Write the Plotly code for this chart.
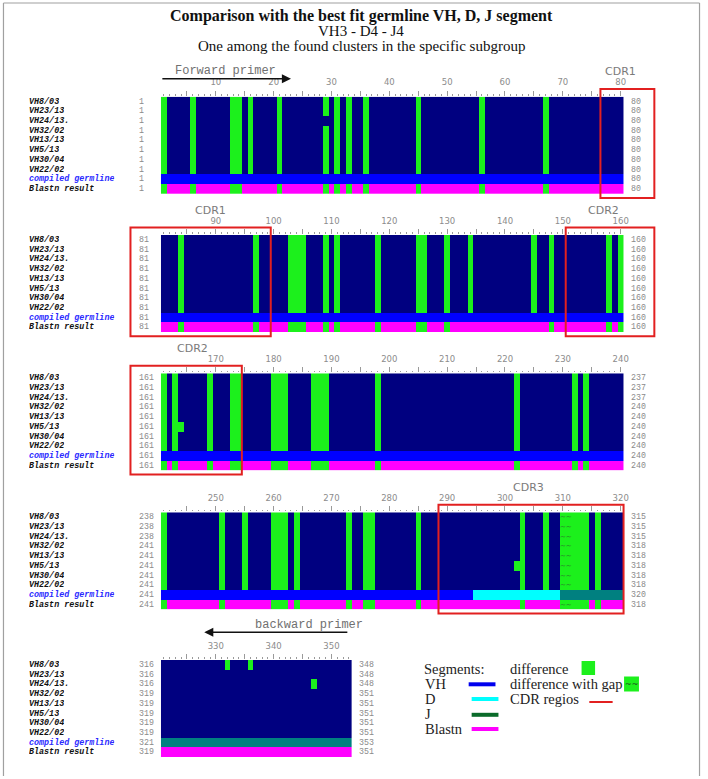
import plotly.graph_objects as go

W, H = 708, 779

# ---------------- data ----------------
row_names = ["VH8/03", "VH23/13", "VH24/13.", "VH32/02", "VH13/13", "VH5/13",
             "VH30/04", "VH22/02", "compiled germline", "Blastn result"]
sequence_rows = 8

block_first = [1, 81, 161, 241, 321]
block_last = [80, 160, 240, 320, 353]

start_numbers_block1 = [1, 1, 1, 1, 1, 1, 1, 1, 1, 1]
start_numbers_block2 = [81, 81, 81, 81, 81, 81, 81, 81, 81, 81]
start_numbers_block3 = [161, 161, 161, 161, 161, 161, 161, 161, 161, 161]
start_numbers_block4 = [238, 238, 238, 241, 241, 241, 241, 241, 241, 241]
start_numbers_block5 = [316, 316, 316, 319, 319, 319, 319, 319, 321, 319]
end_numbers_block1 = [80, 80, 80, 80, 80, 80, 80, 80, 80, 80]
end_numbers_block2 = [160, 160, 160, 160, 160, 160, 160, 160, 160, 160]
end_numbers_block3 = [237, 237, 237, 240, 240, 240, 240, 240, 240, 240]
end_numbers_block4 = [315, 315, 315, 318, 318, 318, 318, 318, 320, 318]
end_numbers_block5 = [348, 348, 348, 351, 351, 351, 351, 351, 353, 351]

shared_difference_positions = [
    1, 6, 13, 14, 16, 21, 29, 31, 33, 36, 45, 56, 67,
    84, 97, 103, 104, 105, 109, 111, 118, 125, 126, 130, 134, 145, 148, 158, 160,
    161, 163, 169, 173, 174, 180, 181, 182, 187, 188, 189, 198, 222, 232, 234,
    241, 251, 255, 260, 261, 262, 264, 273, 276, 277, 285, 303, 307, 316]
gap_difference_positions = [310, 311, 312, 313, 314]
vh8_03_extra_differences = [332, 336]
vh24_13_extra_differences = [347]
vh24_13_matching_positions = [29]
vh5_13_extra_differences = [164, 302]
blastn_difference_positions = [
    1, 6, 13, 14, 21, 29, 31, 33, 36, 45, 56, 67,
    84, 97, 103, 104, 105, 109, 111, 118, 125, 126, 130, 148, 158, 160,
    161, 163, 169, 173, 174, 180, 181, 182, 187, 188, 189, 198, 222, 232, 234,
    241, 251, 260, 261, 262, 264, 273, 276, 277, 285, 303, 316]
vh_segment = [1, 294]
d_segment = [295, 309]
j_segment = [310, 353]

cdr_first = [77, 151, 289]
cdr_last = [99, 174, 320]
cdr_label_block = [0, 1, 1, 2, 3]
cdr_label_text = ["CDR1", "CDR1", "CDR2", "CDR2", "CDR3"]
cdr_label_position = [80, 89, 157, 166, 304]

forward_primer = [1, 23]
backward_primer = [328, 353]

legend_segment_names = ["VH", "D", "J", "Blastn"]

# ---------------- styles / layout ----------------
C_MATCH, C_DIFF, C_VH, C_D, C_J, C_BLAST = 0, 1, 2, 3, 4, 5
cell_colors = ["#000080", "#1cf01c", "#0000ff", "#00ffff", "#008080", "#ff00ff"]
legend_line_colors = ["#0000ee", "#00ffff", "#0a6b2a", "#ff00ff"]
RED = "#e22020"
GREY_TXT = "#8a8a8a"

BAR_LEFT_PX = 162.0
CELL_PX = 5.825
BLOCK_TOP_PX = [96.7, 235.0, 373.3, 512.3, 660.0]
BLOCK_H_PX = 97.3
ROW_TEXT_BOX = 9.5

start_numbers = [start_numbers_block1, start_numbers_block2, start_numbers_block3,
                 start_numbers_block4, start_numbers_block5]
end_numbers = [end_numbers_block1, end_numbers_block2, end_numbers_block3,
               end_numbers_block4, end_numbers_block5]


def px(x):
    return x / W


def py(y):
    return 1 - y / H


def row_extra(r):
    name = row_names[r]
    if name == "VH8/03":
        return vh8_03_extra_differences
    if name == "VH24/13.":
        return vh24_13_extra_differences
    if name == "VH5/13":
        return vh5_13_extra_differences
    return []


def row_same(r):
    if row_names[r] == "VH24/13.":
        return vh24_13_matching_positions
    return []


def code_for(r, p):
    if r < sequence_rows:
        if p in gap_difference_positions or p in row_extra(r):
            return C_DIFF
        if p in shared_difference_positions and p not in row_same(r):
            return C_DIFF
        return C_MATCH
    if r == sequence_rows:
        if vh_segment[0] <= p <= vh_segment[1]:
            return C_VH
        if d_segment[0] <= p <= d_segment[1]:
            return C_D
        return C_J
    if p in blastn_difference_positions or p in gap_difference_positions:
        return C_DIFF
    return C_BLAST


n_codes = len(cell_colors)
colorscale = []
for k, c in enumerate(cell_colors):
    colorscale.append([k / n_codes, c])
    colorscale.append([(k + 1) / n_codes, c])

fig = go.Figure()
layout = dict(width=W, height=H, margin=dict(l=0, r=0, t=0, b=0),
              paper_bgcolor="white", plot_bgcolor="white", showlegend=False)
annotations = []
shapes = []


def note(text, x, y, xref="paper", yref="paper", xanchor="center", yanchor="middle",
         font=None, **kw):
    d = dict(xref=xref, yref=yref, x=x, y=y, text=text, showarrow=False,
             xanchor=xanchor, yanchor=yanchor, font=font or {})
    d.update(kw)
    annotations.append(d)


for b in range(5):
    n = "" if b == 0 else str(b + 1)
    xs = list(range(block_first[b], block_last[b] + 1))
    rows = list(range(len(row_names)))
    z = [[code_for(r, p) for p in xs] for r in rows]
    fig.add_trace(go.Heatmap(x=xs, y=rows, z=z, zmin=-0.5, zmax=n_codes - 0.5,
                             colorscale=colorscale, showscale=False,
                             hoverinfo="skip", xaxis="x" + n, yaxis="y" + n))
    right_px = BAR_LEFT_PX + len(xs) * CELL_PX
    top = BLOCK_TOP_PX[b]
    bottom = top + BLOCK_H_PX
    majors = [p for p in xs if p % 5 == 0]
    layout["xaxis" + n] = dict(
        domain=[px(BAR_LEFT_PX), px(right_px)], anchor="y" + n, side="top",
        range=[block_first[b] - 0.5, block_last[b] + 0.5],
        tickmode="array", tickvals=majors,
        ticktext=[str(p) if p % 10 == 0 else "" for p in majors],
        ticks="outside", ticklen=5, tickwidth=1, tickcolor="#9a9a9a",
        ticklabelstandoff=2,
        tickfont=dict(family="DejaVu Sans", size=8.5, color="#8c8c8c"),
        minor=dict(tickvals=[p for p in xs if p % 5 != 0], ticks="outside",
                   ticklen=1.6, tickwidth=1.2, tickcolor="#9a9a9a"),
        showgrid=False, zeroline=False, showline=False, fixedrange=True)
    layout["yaxis" + n] = dict(
        domain=[py(bottom), py(top)], anchor="x" + n,
        range=[len(row_names) - 0.5, -0.5], visible=False, fixedrange=True)

    for r, name in enumerate(row_names):
        note(name, px(28), r, yref="y" + n, xanchor="left", height=ROW_TEXT_BOX,
             borderpad=0,
             font=dict(family="Liberation Mono", size=8.4, weight="bold", style="italic",
                       color="#2a2aff" if r == sequence_rows else "#111111"))
        note(str(start_numbers[b][r]), px(139), r, yref="y" + n, xanchor="left",
             height=ROW_TEXT_BOX, borderpad=0,
             font=dict(family="Liberation Mono", size=8.3, color=GREY_TXT))
        note(str(end_numbers[b][r]), px(right_px + 6.5), r, yref="y" + n, xanchor="left",
             height=ROW_TEXT_BOX, borderpad=0,
             font=dict(family="Liberation Mono", size=8.3, color=GREY_TXT))

    # "~~" gap marks
    for p in gap_difference_positions[:1]:
        if block_first[b] <= p <= block_last[b]:
            for r in rows:
                if r == sequence_rows:
                    continue
                note("~~", p + 0.6, r, xref="x" + n, yref="y" + n, height=ROW_TEXT_BOX,
                     borderpad=0,
                     font=dict(family="DejaVu Sans", size=7, color="#2d6b2d"))

    # CDR boxes
    for cf, cl in zip(cdr_first, cdr_last):
        lo = max(cf, block_first[b])
        hi = min(cl, block_last[b])
        if lo > hi:
            continue
        x0 = BAR_LEFT_PX + (lo - block_first[b]) * CELL_PX
        x1 = BAR_LEFT_PX + (hi - block_first[b] + 1) * CELL_PX
        if cf < block_first[b]:
            x0 = 131.4
        if cl > block_last[b]:
            x1 = 659.0
        shapes.append(dict(type="rect", xref="paper", yref="paper",
                           x0=px(x0), x1=px(x1), y0=py(bottom + 4), y1=py(top - 7.6),
                           line=dict(color=RED, width=2), fillcolor="rgba(0,0,0,0)"))

# CDR labels
for blk, txt, pos in zip(cdr_label_block, cdr_label_text, cdr_label_position):
    n = "" if blk == 0 else str(blk + 1)
    note(txt, pos, py(BLOCK_TOP_PX[blk] - 25), xref="x" + n,
         font=dict(family="DejaVu Sans", size=11, color="#7a7a7a"))

# primers
annotations.append(dict(xref="x", yref="paper", x=forward_primer[1],
                        y=py(BLOCK_TOP_PX[0] - 18), axref="x", ax=forward_primer[0] - 0.5,
                        ayref="pixel", ay=0, text="", showarrow=True, arrowhead=2,
                        arrowsize=1.3, arrowwidth=1.4, arrowcolor="#111111", standoff=0))
note("Forward primer", (forward_primer[0] - 0.5 + forward_primer[1]) / 2,
     py(BLOCK_TOP_PX[0] - 25.5), xref="x",
     font=dict(family="Liberation Mono", size=12, color="#707070"))
annotations.append(dict(xref="x5", yref="paper", x=backward_primer[0],
                        y=py(BLOCK_TOP_PX[4] - 27.7), axref="x5", ax=backward_primer[1],
                        ayref="pixel", ay=0, text="", showarrow=True, arrowhead=2,
                        arrowsize=1.3, arrowwidth=1.4, arrowcolor="#111111", standoff=0))
note("backward primer", backward_primer[1], py(BLOCK_TOP_PX[4] - 35), xref="x5",
     xanchor="right", xshift=16,
     font=dict(family="Liberation Mono", size=12, color="#707070"))

# titles
title_lines = [("Comparison with the best fit germline VH, D, J segment", 15.5, "bold", 16),
               ("VH3 - D4 - J4", 31, "normal", 15),
               ("One among the found clusters in the specific subgroup", 46, "normal", 15)]
for txt, y, wt, sz in title_lines:
    note(txt, px(364), py(y),
         font=dict(family="Liberation Serif", size=sz, weight=wt, color="#111111"))

# legend
SERIF = dict(family="Liberation Serif", size=14.5, color="#222222")
note("Segments:", px(424.5), py(668.5), xanchor="left", font=SERIF)
seg_y = [683.5, 698.5, 713.5, 728.5]
seg_line_x = [(472, 499), (475, 502), (475, 502), (475, 502)]
seg_line_y = [684.3, 699.0, 714.8, 729.0]
for name, y, (lx0, lx1), ly, col in zip(legend_segment_names, seg_y, seg_line_x,
                                        seg_line_y, legend_line_colors):
    note(name, px(426), py(y), xanchor="left", font=SERIF)
    shapes.append(dict(type="line", xref="paper", yref="paper", x0=px(lx0), x1=px(lx1),
                       y0=py(ly), y1=py(ly), line=dict(color=col, width=4)))
for txt, y in [("difference", 668.5), ("difference with gap", 683.5), ("CDR regios", 698.5)]:
    note(txt, px(511.5), py(y), xanchor="left", font=SERIF)
shapes.append(dict(type="rect", xref="paper", yref="paper", x0=px(585.7), x1=px(599.3),
                   y0=py(675), y1=py(661), line=dict(width=0), fillcolor=cell_colors[C_DIFF]))
shapes.append(dict(type="rect", xref="paper", yref="paper", x0=px(628.5), x1=px(643.5),
                   y0=py(691.5), y1=py(676.5), line=dict(width=0), fillcolor=cell_colors[C_DIFF]))
note("~~", px(636), py(684), font=dict(family="DejaVu Sans", size=8, color="#1f4f1f"))
shapes.append(dict(type="line", xref="paper", yref="paper", x0=px(593.5), x1=px(617),
                   y0=py(702), y1=py(702), line=dict(color=RED, width=2)))

# outer frame
for x0, y0, x1, y1 in [(3.5, 3, 3.5, 776), (3.5, 3, 704.5, 3), (704.5, 3, 704.5, 776)]:
    shapes.append(dict(type="line", xref="paper", yref="paper", x0=px(x0), x1=px(x1),
                       y0=py(y0), y1=py(y1), line=dict(color="#a0a0a0", width=1.2)))

layout["annotations"] = annotations
layout["shapes"] = shapes
fig.update_layout(**layout)
fig.write_html("out.html", config={"displayModeBar": False},
               post_script="document.body.style.margin='0px';"
                           "document.body.style.overflow='hidden';")
